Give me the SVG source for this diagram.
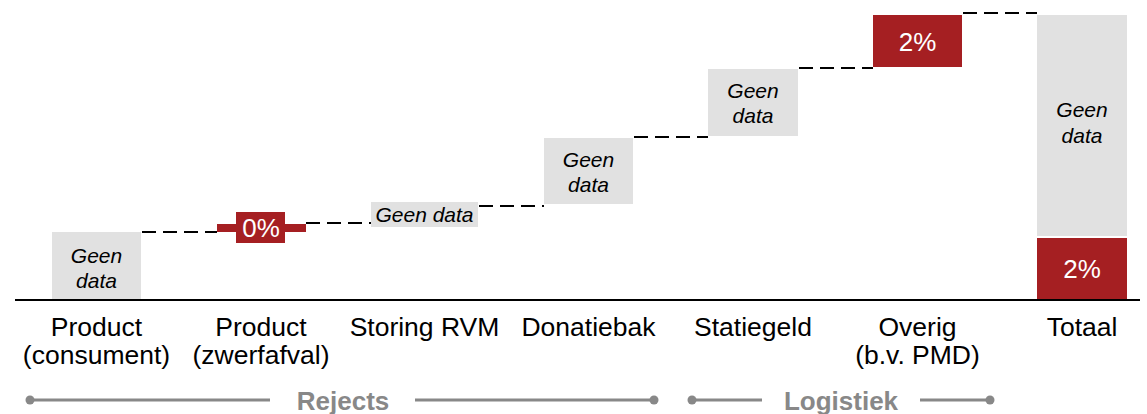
<svg xmlns="http://www.w3.org/2000/svg" width="1147" height="414" viewBox="0 0 1147 414">
<style>
text{font-family:"Liberation Sans",Arial,sans-serif}
.lbl{font-size:26.5px;fill:#000;text-anchor:middle}
.gd{font-size:21px;font-style:italic;fill:#000;text-anchor:middle}
.val{font-size:26px;fill:#fff;text-anchor:middle}
.grey{fill:#E1E1E1}
.red{fill:#A51F22}
.dash{stroke:#000;stroke-width:2;stroke-dasharray:14 7;fill:none}
.grp{font-size:26px;font-weight:bold;fill:#888;text-anchor:middle}
.gl{stroke:#888;stroke-width:3}
.dot{fill:#888}
</style>
<rect width="1147" height="414" fill="#fff"/>
<g id="connectors">
<line class="dash" x1="142" y1="232" x2="217" y2="232"/>
<line class="dash" x1="306" y1="223" x2="371" y2="223"/>
<line class="dash" x1="479" y1="206" x2="544" y2="206"/>
<line class="dash" x1="634" y1="137" x2="708" y2="137"/>
<line class="dash" x1="799" y1="68" x2="873" y2="68"/>
<line class="dash" x1="963" y1="13" x2="1037" y2="13"/>
</g>
<g id="bar-consument">
<rect class="grey" x="52" y="232" width="89" height="67"/>
<text class="gd" x="96.5" y="263">Geen</text>
<text class="gd" x="96.5" y="288">data</text>
</g>
<g id="bar-zwerfafval">
<rect class="red" x="217" y="224" width="89" height="8"/>
<rect class="red" x="236" y="212" width="49" height="31"/>
<text class="val" x="261" y="237">0%</text>
</g>
<g id="bar-storing">
<rect class="grey" x="371" y="202" width="107" height="25"/>
<text class="gd" x="424.5" y="222">Geen data</text>
</g>
<g id="bar-donatiebak">
<rect class="grey" x="544" y="138" width="89" height="66"/>
<text class="gd" x="588.5" y="167">Geen</text>
<text class="gd" x="588.5" y="192">data</text>
</g>
<g id="bar-statiegeld">
<rect class="grey" x="708" y="69" width="90" height="67"/>
<text class="gd" x="753" y="98">Geen</text>
<text class="gd" x="753" y="123">data</text>
</g>
<g id="bar-overig">
<rect class="red" x="873" y="15" width="89" height="52"/>
<text class="val" x="917.5" y="51">2%</text>
</g>
<g id="bar-totaal">
<rect class="grey" x="1037" y="15" width="90" height="221"/>
<text class="gd" x="1082" y="117">Geen</text>
<text class="gd" x="1082" y="143">data</text>
<rect class="red" x="1037" y="238" width="90" height="61"/>
<text class="val" x="1082" y="278">2%</text>
</g>
<g id="axis">
<line x1="15" y1="300" x2="1140" y2="300" stroke="#000" stroke-width="2"/>
</g>
<g id="labels">
<text class="lbl" x="96.5" y="336">Product</text>
<text class="lbl" x="96.5" y="364">(consument)</text>
<text class="lbl" x="261" y="336">Product</text>
<text class="lbl" x="261" y="364">(zwerfafval)</text>
<text class="lbl" x="424.5" y="336">Storing RVM</text>
<text class="lbl" x="588.5" y="336">Donatiebak</text>
<text class="lbl" x="753" y="336">Statiegeld</text>
<text class="lbl" x="917.5" y="336">Overig</text>
<text class="lbl" x="917.5" y="364">(b.v. PMD)</text>
<text class="lbl" x="1082" y="336">Totaal</text>
</g>
<g id="group-rejects">
<line class="gl" x1="30" y1="400" x2="270" y2="400"/>
<line class="gl" x1="415" y1="400" x2="654" y2="400"/>
<circle class="dot" cx="30" cy="400" r="4.5"/>
<circle class="dot" cx="654" cy="400" r="4.5"/>
<text class="grp" x="343" y="410">Rejects</text>
</g>
<g id="group-logistiek">
<line class="gl" x1="692" y1="400" x2="762" y2="400"/>
<line class="gl" x1="920" y1="400" x2="990" y2="400"/>
<circle class="dot" cx="692" cy="400" r="4.5"/>
<circle class="dot" cx="990" cy="400" r="4.5"/>
<text class="grp" x="841" y="410">Logistiek</text>
</g>
</svg>
